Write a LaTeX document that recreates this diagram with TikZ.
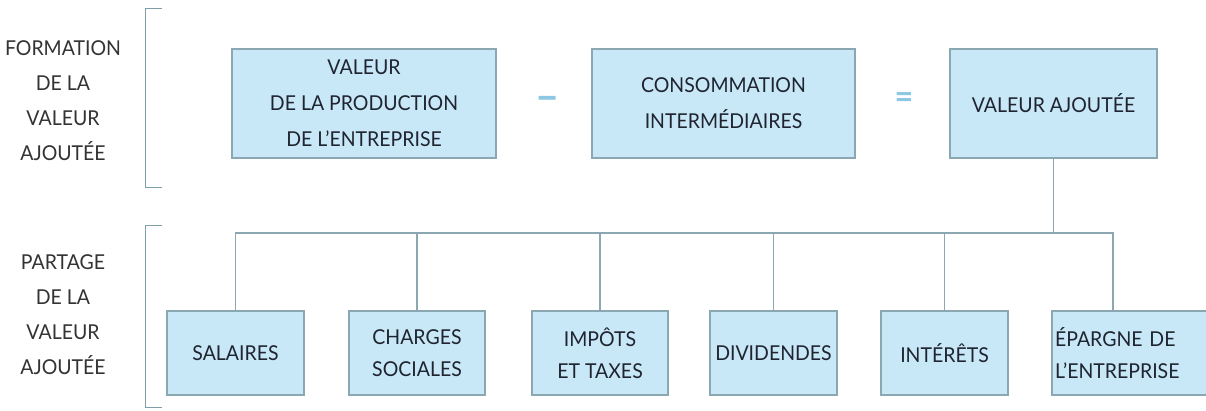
\documentclass[tikz,border=0pt]{standalone}
\usepackage{fontspec}
\setmainfont[FakeStretch=0.95]{Lato}
\definecolor{boxfill}{HTML}{C8E8F7}
\definecolor{boxline}{HTML}{8AA7B2}
\definecolor{txt}{HTML}{1F2430}
\definecolor{lbl}{HTML}{333333}
\definecolor{sign}{HTML}{8CC8E4}
\definecolor{brk}{HTML}{7F9FA8}
\tikzset{
  vbox/.style={draw=boxline, fill=boxfill, line width=1.1pt, text=txt, align=center, inner sep=0pt},
  topbox/.style={vbox, minimum height=109pt, font=\fontsize{20.5}{36}\selectfont},
  botbox/.style={vbox, minimum height=84pt, font=\fontsize{20.5}{32}\selectfont},
  sidelbl/.style={text=lbl, align=center, font=\fontsize{20.5}{35}\selectfont},
  link/.style={draw=boxline, line width=1.1pt},
  bracket/.style={draw=brk, line width=1pt},
  signlbl/.style={text=sign, font=\fontsize{34}{34}\selectfont\bfseries}
}
\begin{document}
\begin{tikzpicture}[x=1pt,y=-1pt]
\useasboundingbox (0,0) rectangle (1206,410);
\fill[white] (0,0) rectangle (1206,410);
% brackets
\draw[bracket] (162,8) -- (145,8) -- (145,187) -- (162,187);
\draw[bracket] (162,225) -- (145,225) -- (145,407) -- (162,407);
% side labels
\node[sidelbl] (lform) at (63,101) {FORMATION\\DE LA\\VALEUR\\AJOUTÉE};
\node[sidelbl] (lpart) at (63,315) {PARTAGE\\DE LA\\VALEUR\\AJOUTÉE};
% top boxes
\node[topbox, minimum width=264pt] (vp) at (364,103.5) {VALEUR\\DE LA PRODUCTION\\DE L’ENTREPRISE};
\node[topbox, minimum width=263pt] (ci) at (723.5,103.5) {CONSOMMATION\\INTERMÉDIAIRES};
\node[topbox, minimum width=207pt] (va) at (1053.5,103.5) {VALEUR AJOUTÉE};
% signs
\node[signlbl, font=\fontsize{44}{44}\selectfont\bfseries] (minus) at (548,104) {–};
\node[signlbl] (eq) at (904,101) {=};
% bottom boxes
\node[botbox, minimum width=137pt] (sal) at (235.5,353) {SALAIRES};
\node[botbox, minimum width=136pt] (cha) at (417,353) {CHARGES\\SOCIALES};
\node[botbox, minimum width=136pt] (imp) at (600,353) {IMPÔTS\\ET TAXES};
\node[botbox, minimum width=127pt] (div) at (773.5,353) {DIVIDENDES};
\node[botbox, minimum width=127pt] (int) at (944.5,353) {INTÉRÊTS};
\node[botbox, minimum width=164pt, text width=158pt, align=left] (ep) at (1134,353) {ÉPARGNE DE\\L’ENTREPRISE};
\coordinate (epstem) at (1113,311);
\coordinate (bar) at (0,233);
% connectors
\draw[link] (va.south) -- (va.south |- bar);
\draw[link] (sal.north) -- (sal.north |- bar) -- (epstem |- bar) -- (epstem);
\draw[link] (cha.north) -- (cha.north |- bar);
\draw[link] (imp.north) -- (imp.north |- bar);
\draw[link] (div.north) -- (div.north |- bar);
\draw[link] (int.north) -- (int.north |- bar);
\end{tikzpicture}
\end{document}
